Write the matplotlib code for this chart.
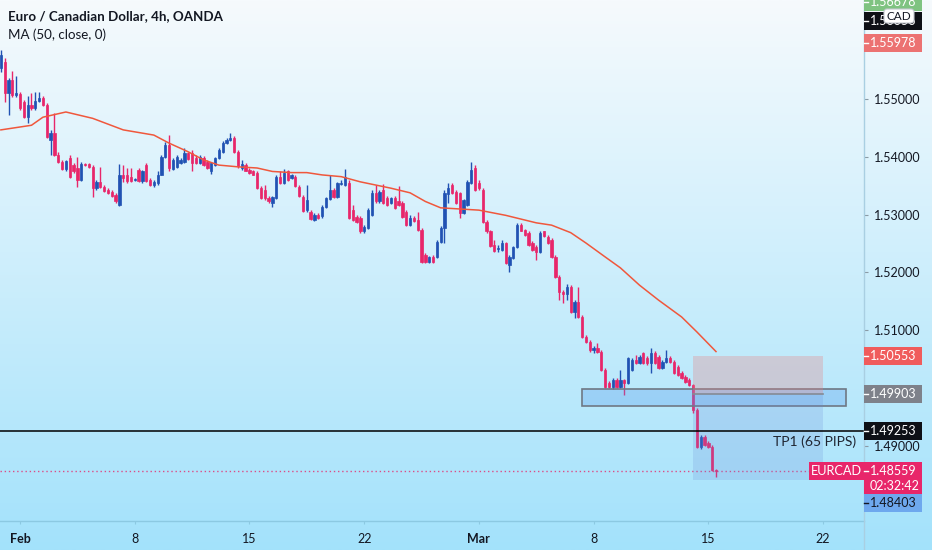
import numpy as np
import matplotlib
matplotlib.use("Agg")
import matplotlib.pyplot as plt
from matplotlib.patches import Rectangle, FancyBboxPatch
from matplotlib.transforms import IdentityTransform
from matplotlib.lines import Line2D

plt.rcParams['font.family'] = ['Lato', 'DejaVu Sans']

# ---------------- data (EURCAD 4h, OANDA) ----------------
opens = [1.5554, 1.5565, 1.5511, 1.5533, 1.5507, 1.5509, 1.5496, 1.5469, 1.5490, 1.5485,
         1.5497, 1.5502, 1.5490, 1.5429, 1.5442, 1.5403, 1.5392, 1.5379, 1.5398, 1.5386,
         1.5381, 1.5360, 1.5388, 1.5388, 1.5383, 1.5346, 1.5357, 1.5348, 1.5343, 1.5340,
         1.5334, 1.5317, 1.5369, 1.5368, 1.5366, 1.5360, 1.5378, 1.5358, 1.5386, 1.5360,
         1.5351, 1.5355, 1.5369, 1.5400, 1.5420, 1.5379, 1.5383, 1.5390, 1.5392, 1.5407,
         1.5407, 1.5398, 1.5390, 1.5398, 1.5392, 1.5375, 1.5386, 1.5398, 1.5409, 1.5424,
         1.5429, 1.5433, 1.5409, 1.5381, 1.5386, 1.5378, 1.5376, 1.5373, 1.5346, 1.5343,
         1.5329, 1.5321, 1.5329, 1.5366, 1.5355, 1.5375, 1.5364, 1.5366, 1.5348, 1.5331,
         1.5308, 1.5305, 1.5291, 1.5299, 1.5298, 1.5314, 1.5327, 1.5343, 1.5331, 1.5353,
         1.5351, 1.5355, 1.5308, 1.5296, 1.5294, 1.5271, 1.5277, 1.5299, 1.5338, 1.5323,
         1.5343, 1.5329, 1.5321, 1.5329, 1.5323, 1.5321, 1.5305, 1.5282, 1.5294, 1.5291,
         1.5274, 1.5230, 1.5219, 1.5227, 1.5227, 1.5253, 1.5277, 1.5336, 1.5351, 1.5340,
         1.5338, 1.5303, 1.5317, 1.5355, 1.5381, 1.5355, 1.5343, 1.5288, 1.5271, 1.5247,
         1.5240, 1.5239, 1.5251, 1.5213, 1.5225, 1.5244, 1.5282, 1.5274, 1.5269, 1.5251,
         1.5244, 1.5236, 1.5271, 1.5262, 1.5256, 1.5227, 1.5192, 1.5167, 1.5163, 1.5175,
         1.5132, 1.5149, 1.5123, 1.5088, 1.5080, 1.5066, 1.5069, 1.5063, 1.5031, 1.5009,
         1.5002, 1.5014, 1.5002, 1.5014, 1.5009, 1.5031, 1.5048, 1.5043, 1.5061, 1.5052,
         1.5043, 1.5061, 1.5054, 1.5034, 1.5045, 1.5052, 1.5045, 1.5036, 1.5026, 1.5019,
         1.5014, 1.5005, 1.4962, 1.4898, 1.4915, 1.4905, 1.4898, 1.4858]
highs = [1.5585, 1.5571, 1.5537, 1.5549, 1.5541, 1.5513, 1.5499, 1.5506, 1.5511, 1.5513,
         1.5513, 1.5506, 1.5494, 1.5447, 1.5476, 1.5409, 1.5395, 1.5395, 1.5403, 1.5390,
         1.5400, 1.5392, 1.5390, 1.5390, 1.5386, 1.5360, 1.5383, 1.5351, 1.5346, 1.5343,
         1.5338, 1.5388, 1.5386, 1.5381, 1.5381, 1.5364, 1.5381, 1.5378, 1.5390, 1.5364,
         1.5360, 1.5375, 1.5403, 1.5426, 1.5438, 1.5398, 1.5403, 1.5398, 1.5415, 1.5409,
         1.5412, 1.5403, 1.5403, 1.5402, 1.5395, 1.5390, 1.5400, 1.5415, 1.5427, 1.5433,
         1.5442, 1.5437, 1.5412, 1.5395, 1.5390, 1.5381, 1.5378, 1.5375, 1.5350, 1.5351,
         1.5333, 1.5333, 1.5369, 1.5375, 1.5379, 1.5378, 1.5371, 1.5369, 1.5351, 1.5334,
         1.5351, 1.5308, 1.5303, 1.5303, 1.5317, 1.5331, 1.5368, 1.5346, 1.5357, 1.5360,
         1.5379, 1.5360, 1.5317, 1.5299, 1.5298, 1.5282, 1.5312, 1.5343, 1.5351, 1.5343,
         1.5353, 1.5333, 1.5331, 1.5333, 1.5350, 1.5324, 1.5308, 1.5299, 1.5298, 1.5305,
         1.5277, 1.5234, 1.5229, 1.5230, 1.5256, 1.5281, 1.5343, 1.5355, 1.5355, 1.5343,
         1.5340, 1.5327, 1.5360, 1.5392, 1.5386, 1.5360, 1.5346, 1.5291, 1.5274, 1.5256,
         1.5247, 1.5256, 1.5253, 1.5230, 1.5246, 1.5286, 1.5286, 1.5275, 1.5271, 1.5254,
         1.5247, 1.5272, 1.5272, 1.5265, 1.5260, 1.5230, 1.5195, 1.5170, 1.5180, 1.5178,
         1.5152, 1.5175, 1.5126, 1.5091, 1.5083, 1.5073, 1.5078, 1.5066, 1.5034, 1.5012,
         1.5017, 1.5017, 1.5031, 1.5015, 1.5054, 1.5052, 1.5057, 1.5057, 1.5063, 1.5056,
         1.5069, 1.5064, 1.5057, 1.5048, 1.5066, 1.5056, 1.5048, 1.5039, 1.5029, 1.5022,
         1.5017, 1.5007, 1.4965, 1.4918, 1.4918, 1.4908, 1.4901, 1.4860]
lows = [1.5548, 1.5496, 1.5472, 1.5504, 1.5504, 1.5481, 1.5467, 1.5459, 1.5481, 1.5481,
        1.5496, 1.5489, 1.5433, 1.5403, 1.5402, 1.5390, 1.5378, 1.5376, 1.5364, 1.5373,
        1.5348, 1.5358, 1.5385, 1.5381, 1.5331, 1.5343, 1.5346, 1.5340, 1.5336, 1.5331,
        1.5321, 1.5316, 1.5357, 1.5355, 1.5357, 1.5358, 1.5357, 1.5355, 1.5357, 1.5350,
        1.5348, 1.5351, 1.5368, 1.5398, 1.5375, 1.5378, 1.5381, 1.5388, 1.5390, 1.5395,
        1.5375, 1.5388, 1.5388, 1.5385, 1.5379, 1.5371, 1.5385, 1.5396, 1.5407, 1.5422,
        1.5427, 1.5407, 1.5381, 1.5378, 1.5375, 1.5371, 1.5368, 1.5344, 1.5327, 1.5326,
        1.5321, 1.5314, 1.5327, 1.5353, 1.5353, 1.5358, 1.5362, 1.5348, 1.5331, 1.5305,
        1.5305, 1.5291, 1.5289, 1.5292, 1.5294, 1.5312, 1.5326, 1.5329, 1.5329, 1.5351,
        1.5350, 1.5292, 1.5289, 1.5286, 1.5269, 1.5269, 1.5275, 1.5298, 1.5321, 1.5321,
        1.5319, 1.5316, 1.5319, 1.5310, 1.5316, 1.5294, 1.5281, 1.5281, 1.5288, 1.5272,
        1.5217, 1.5217, 1.5217, 1.5217, 1.5225, 1.5251, 1.5251, 1.5321, 1.5336, 1.5319,
        1.5294, 1.5301, 1.5316, 1.5353, 1.5341, 1.5343, 1.5286, 1.5269, 1.5244, 1.5236,
        1.5236, 1.5237, 1.5215, 1.5201, 1.5223, 1.5242, 1.5271, 1.5264, 1.5246, 1.5237,
        1.5222, 1.5234, 1.5262, 1.5249, 1.5225, 1.5190, 1.5152, 1.5147, 1.5152, 1.5130,
        1.5121, 1.5121, 1.5086, 1.5078, 1.5063, 1.5061, 1.5061, 1.5029, 1.5000, 1.5000,
        1.4998, 1.5000, 1.5000, 1.4987, 1.5007, 1.5029, 1.5041, 1.5041, 1.5041, 1.5039,
        1.5026, 1.5041, 1.5032, 1.5032, 1.5043, 1.5043, 1.5024, 1.5021, 1.5015, 1.5009,
        1.5004, 1.4957, 1.4896, 1.4894, 1.4900, 1.4896, 1.4856, 1.4846]
closes = [1.5576, 1.5511, 1.5533, 1.5507, 1.5511, 1.5485, 1.5469, 1.5490, 1.5485, 1.5497,
          1.5502, 1.5490, 1.5435, 1.5442, 1.5403, 1.5392, 1.5379, 1.5393, 1.5366, 1.5375,
          1.5360, 1.5388, 1.5386, 1.5383, 1.5346, 1.5357, 1.5348, 1.5341, 1.5338, 1.5333,
          1.5323, 1.5369, 1.5364, 1.5358, 1.5358, 1.5362, 1.5358, 1.5375, 1.5358, 1.5351,
          1.5357, 1.5369, 1.5400, 1.5420, 1.5381, 1.5395, 1.5400, 1.5395, 1.5407, 1.5396,
          1.5390, 1.5390, 1.5400, 1.5386, 1.5381, 1.5390, 1.5398, 1.5412, 1.5424, 1.5429,
          1.5433, 1.5409, 1.5385, 1.5388, 1.5376, 1.5373, 1.5369, 1.5346, 1.5329, 1.5329,
          1.5323, 1.5331, 1.5366, 1.5355, 1.5373, 1.5360, 1.5369, 1.5350, 1.5333, 1.5306,
          1.5326, 1.5292, 1.5299, 1.5294, 1.5314, 1.5329, 1.5343, 1.5331, 1.5355, 1.5355,
          1.5366, 1.5294, 1.5291, 1.5288, 1.5271, 1.5279, 1.5308, 1.5338, 1.5323, 1.5340,
          1.5321, 1.5317, 1.5329, 1.5312, 1.5317, 1.5296, 1.5282, 1.5294, 1.5289, 1.5274,
          1.5219, 1.5219, 1.5227, 1.5219, 1.5253, 1.5277, 1.5338, 1.5346, 1.5338, 1.5321,
          1.5303, 1.5326, 1.5357, 1.5378, 1.5343, 1.5346, 1.5288, 1.5271, 1.5246, 1.5237,
          1.5242, 1.5251, 1.5217, 1.5227, 1.5244, 1.5282, 1.5272, 1.5265, 1.5247, 1.5239,
          1.5236, 1.5269, 1.5264, 1.5251, 1.5227, 1.5192, 1.5167, 1.5163, 1.5175, 1.5132,
          1.5149, 1.5123, 1.5088, 1.5080, 1.5066, 1.5069, 1.5063, 1.5031, 1.5002, 1.5002,
          1.5014, 1.5002, 1.5014, 1.5009, 1.5052, 1.5048, 1.5043, 1.5054, 1.5043, 1.5043,
          1.5061, 1.5043, 1.5034, 1.5045, 1.5052, 1.5045, 1.5026, 1.5022, 1.5017, 1.5011,
          1.5005, 1.4962, 1.4898, 1.4915, 1.4901, 1.4898, 1.4858, 1.48559]

# MA(50, close) (bar index, value)
ma_bars = [0, 8, 11, 17, 24, 32, 40, 44, 49, 53, 57, 62, 67, 71, 76, 80, 84, 89, 94,
           102, 107, 111, 115, 120, 125, 132, 140, 144, 149, 153, 158, 162, 167, 172,
           178, 182, 187]
ma_vals = [1.5447, 1.5455, 1.5469, 1.5478, 1.5467, 1.5447, 1.5438, 1.5424, 1.5409,
           1.5395, 1.5386, 1.5383, 1.5381, 1.5375, 1.5373, 1.5373, 1.5369, 1.5366,
           1.5357, 1.5346, 1.5338, 1.5323, 1.5312, 1.5310, 1.5308, 1.5299, 1.5286,
           1.5282, 1.5269, 1.5251, 1.5227, 1.5208, 1.5178, 1.5152, 1.5123, 1.5097,
           1.5063]

tick_bars = [5, 35, 65, 95, 125, 155, 185, 215]
tick_labels = ["Feb", "8", "15", "22", "Mar", "8", "15", "22"]
price_ticks = [1.49, 1.50, 1.51, 1.52, 1.53, 1.54, 1.55, 1.56]
# 1.50000 and 1.56000 are covered by price labels on the scale
price_tick_labels = ["1.49000", "", "1.51000", "1.52000", "1.53000", "1.54000", "1.55000", ""]

# drawings
zone_top, zone_bottom = 1.49987, 1.49693
zone_start, zone_end = 151.9, 220.9
entry, stop, target = 1.49903, 1.50553, 1.48403
pos_start, pos_end = 181.0, 214.9
tp1_level = 1.49253
last_price = 1.48559
hi_mark, prev_mark, lo_mark = 1.56678, 1.56356, 1.55978

# ---------------- figure ----------------
W, H = 932, 550
fig = plt.figure(figsize=(W / 100, H / 100), dpi=100)

bg = fig.add_axes([0, 0, 1, 1], zorder=-10)
bg.axis('off')
top = np.array([246, 250, 253]) / 255
bot = np.array([163, 226, 251]) / 255
t = np.linspace(0, 1, 300)[:, None]
grad = (top * (1 - t) + bot * t)[:, None, :]
bg.imshow(grad, aspect='auto', extent=[0, 1, 0, 1], interpolation='bilinear')

ax = fig.add_axes([0, 29 / H, 864 / W, 521 / H])
ax.set_facecolor('none')
ax.set_xlim(-0.23, 225.7)
ax.set_ylim(1.47695, 1.56720)
for s in ['top', 'left', 'right']:
    ax.spines[s].set_visible(False)
ax.spines['bottom'].set_color('#8cc9e2')
ax.spines['bottom'].set_linewidth(1.0)

ax.yaxis.tick_right()
ax.set_yticks(price_ticks)
ax.set_yticklabels(price_tick_labels)
ax.tick_params(axis='y', length=3, color='#8a9aa5', labelsize=9,
               labelcolor='#131722', pad=4)
ax.set_xticks(tick_bars)
ax.set_xticklabels(tick_labels)
ax.tick_params(axis='x', length=2.5, color='#8cc9e2', labelsize=9,
               labelcolor='#131722', pad=6)
for lbl in ax.get_xticklabels():
    if lbl.get_text() in ("Feb", "Mar"):
        lbl.set_fontweight('bold')

BLUE = '#2152b3'
PINK = '#e8266a'
o = np.array(opens); h = np.array(highs); l = np.array(lows); c = np.array(closes)
x = np.arange(len(c))
up = c >= o
cols = np.where(up, BLUE, PINK)
ax.vlines(x, l, h, colors=cols, lw=1.0, zorder=3)
ax.bar(x, np.abs(c - o), bottom=np.minimum(o, c), width=0.6, color=cols,
       edgecolor=cols, linewidth=0.5, zorder=3)

ax.plot(ma_bars, ma_vals, color='#f0573c', lw=1.1, zorder=3.5)

# current price dotted line
ax.axhline(last_price, color='#e8266a', lw=1.0, ls=(0, (1, 2)), alpha=0.8, zorder=2)

# zone rectangle
ax.add_patch(Rectangle((zone_start, zone_bottom), zone_end - zone_start,
                       zone_top - zone_bottom, fc=(0.30, 0.58, 0.92, 0.28),
                       ec='#6f7884', lw=1.2, zorder=4))
# position tool
ax.add_patch(Rectangle((pos_start, entry), pos_end - pos_start, stop - entry,
                       fc=(0.91, 0.50, 0.51, 0.30), ec='none', zorder=4))
ax.add_patch(Rectangle((pos_start, target), pos_end - pos_start, entry - target,
                       fc=(0.41, 0.53, 0.83, 0.20), ec='none', zorder=4))
ax.plot([pos_start, pos_end], [entry, entry], color='#858a94', lw=1.2, zorder=4.5)

# TP1 line
ax.axhline(tp1_level, color='black', lw=1.1, zorder=5)
ax.annotate("TP1 (65 PIPS)", xy=(223.6, tp1_level), xytext=(0, -7.8),
            textcoords='offset points', ha='right', va='center', fontsize=10,
            color='#1f2430', zorder=6)

# title
fig.text(8 / W, 1 - 16 / H, "Euro / Canadian Dollar, 4h, OANDA", fontsize=9.6,
         fontweight='bold', color='#131722', va='center', ha='left')
fig.text(8 / W, 1 - 35 / H, "MA (50, close, 0)", fontsize=9.6, color='#131722',
         va='center', ha='left')

# separator of price scale
fig.add_artist(Line2D([864, 864], [0, H], transform=IdentityTransform(),
                      color='#a9cfe2', lw=1.0, zorder=1))


def ydisp(p):
    return ax.transData.transform((0, p))[1]


def price_box(p, text, fc, tc, dy=0, extra=None):
    yc = ydisp(p) + dy
    hgt = 18
    if extra is None:
        fig.add_artist(Rectangle((864, yc - hgt / 2), 58, hgt, transform=IdentityTransform(),
                                 fc=fc, ec='none', zorder=5))
    else:
        fig.add_artist(Rectangle((864, yc - 23), 58, 32, transform=IdentityTransform(),
                                 fc=fc, ec='none', zorder=5))
        fig.text(870 / W, (yc - 15) / H, extra, fontsize=9, color=tc, va='center',
                 ha='left', zorder=6)
    fig.add_artist(Line2D([864, 868], [yc, yc], transform=IdentityTransform(),
                          color=tc, lw=1.0, zorder=6))
    fig.text(870 / W, yc / H, text, fontsize=9, color=tc, va='center', ha='left', zorder=6)


price_box(hi_mark, "1.56678", '#7fc381', 'white')
price_box(prev_mark, "1.56356", '#0e1016', 'white')
price_box(lo_mark, "1.55978", '#ec7272', 'white')
price_box(stop, "1.50553", '#f05c5c', 'white')
price_box(entry, "1.49903", '#7e818a', 'white')
price_box(tp1_level, "1.49253", '#0e1016', 'white')
price_box(last_price, "1.48559", '#e8266a', 'white', extra="02:32:42")
price_box(target, "1.48403", '#6ea8ee', '#131722', dy=-23)

# EURCAD label inside the plot
yl = ydisp(last_price)
fig.add_artist(Rectangle((809, yl - 9), 55, 18, transform=IdentityTransform(),
                         fc='#e8266a', ec='none', zorder=5))
fig.text(836.5 / W, yl / H, "EURCAD", fontsize=9.2, color='white', va='center',
         ha='center', zorder=6)

# CAD currency badge
fig.add_artist(FancyBboxPatch((884, 550 - 23), 30, 14, boxstyle='round,pad=0,rounding_size=3',
                              transform=IdentityTransform(), fc='white', ec='#c4c8d0',
                              lw=0.8, zorder=7))
fig.text(899 / W, (550 - 16) / H, "CAD", fontsize=8.5, color='#131722', va='center',
         ha='center', zorder=8)

fig.savefig("out.png", dpi=100)
